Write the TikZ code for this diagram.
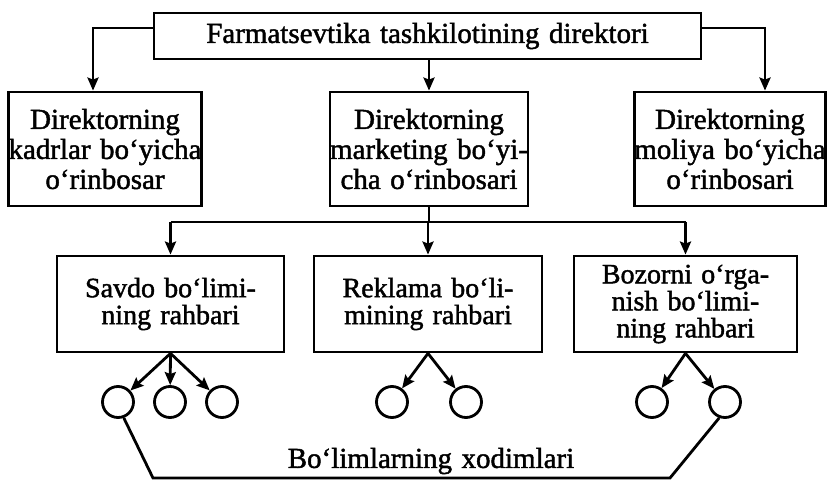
\documentclass[tikz,border=0pt]{standalone}
\usepackage{fontspec}
\setmainfont{Liberation Serif}
\newfontfamily\scanfont{Liberation Serif}[FakeBold=1.5,WordSpace=1.3]
\usetikzlibrary{arrows.meta}
\begin{document}
\begin{tikzpicture}[>={Stealth[length=13pt,width=11pt,inset=2pt]},x=1pt,y=-1pt,line width=2.8pt,
box/.style={draw,inner sep=0pt,align=center,font=\scanfont\fontsize{29}{30}\selectfont},
sub/.style={box,font=\scanfont\fontsize{28}{27}\selectfont},
emp/.style={draw,circle,minimum size=31pt,inner sep=0pt}]
\useasboundingbox (0,0) rectangle (827,481);
\node (dir) at (427.5,36)[box,minimum width=547pt,minimum height=46pt]{Farmatsevtika tashkilotining direktori};
\node (kadr) at (105,149)[box,minimum width=192pt,minimum height=114pt]{Direktorning\\kadrlar bo‘yicha\\o‘rinbosar};
\node (mark) at (429,149)[box,minimum width=194pt,minimum height=114pt]{Direktorning\\marketing bo‘yi-\\cha o‘rinbosari};
\node (moliya) at (730,149)[box,minimum width=184pt,minimum height=114pt]{Direktorning\\moliya bo‘yicha\\o‘rinbosari};
\node (savdo) at (170.5,304)[sub,minimum width=227pt,minimum height=96pt]{Savdo bo‘limi-\\ning rahbari};
\node (reklama) at (428,304)[sub,minimum width=228pt,minimum height=96pt]{Reklama bo‘li-\\mining rahbari};
\node (bozor) at (685.5,304)[sub,minimum width=223pt,minimum height=96pt]{Bozorni o‘rga-\\nish bo‘limi-\\ning rahbari};
% xodimlar
\foreach \n/\x in {c1/118,c2/170,c3/222,c4/392,c5/466,c6/652,c7/725}
{
    \node (\n) at (\x,402)[emp]{};
}
\draw[->]([yshift=8pt]dir.west)-|([xshift=-12pt]kadr.north);
\draw[->]([yshift=8pt]dir.east)-|([xshift=35pt]moliya.north);
\draw[->](mark.north |- dir.south)--(mark.north);
\coordinate (tar) at (429,222);
\draw(mark.south)--(tar);
\draw(savdo.north |- tar)--(bozor.north |- tar);
\foreach \n in {savdo,reklama,bozor}
    \draw[->](\n.north |- tar)--(\n.north);
\foreach \n in {c1,c2,c3}
    \draw[->](savdo.south)--(\n);
\foreach \n in {c4,c5}
    \draw[->](reklama.south)--(\n);
\foreach \n in {c6,c7}
    \draw[->](bozor.south)--(\n);
\coordinate (q1) at (153,478);
\coordinate (q2) at (670,478);
\draw(c1.-70)--(q1)--(q2)--(c7.-110);
\node (xod) at (431,461)[font=\scanfont\fontsize{29}{30}\selectfont]{Bo‘limlarning xodimlari};
\end{tikzpicture}
\end{document}
